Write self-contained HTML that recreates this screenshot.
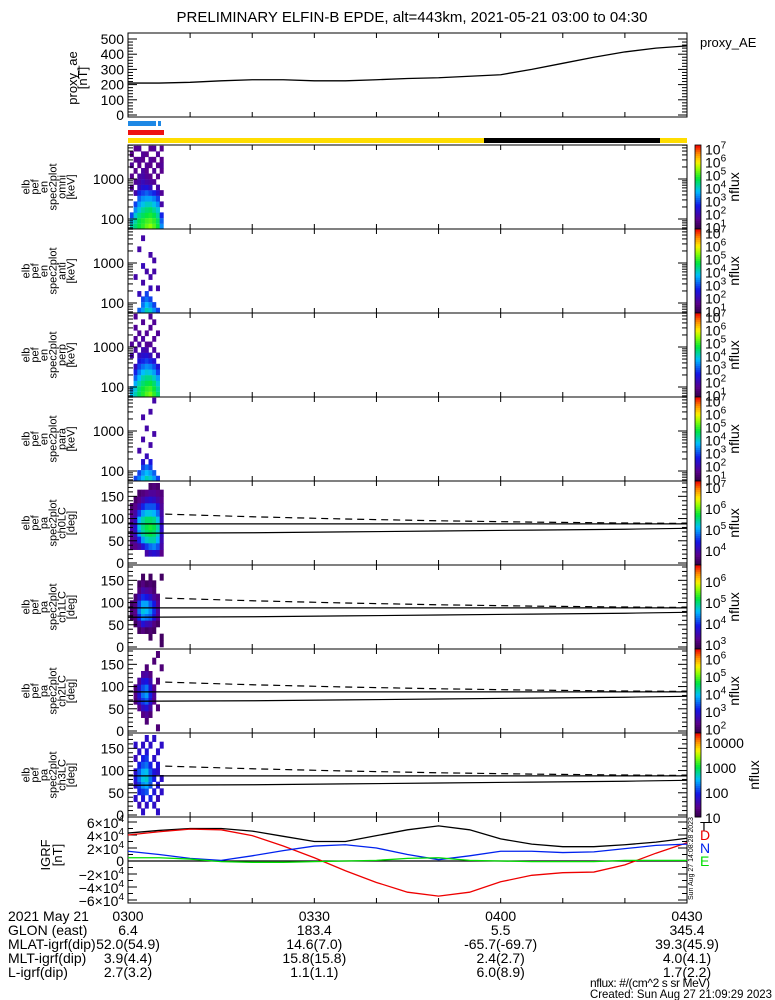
<!DOCTYPE html>
<html><head><meta charset="utf-8"><style>
html,body{margin:0;padding:0;background:#fff;}
svg{display:block;font-family:"Liberation Sans",sans-serif;}
</style></head><body>
<svg id="c" width="775" height="1000" viewBox="0 0 775 1000">
<text x="412" y="22" font-size="15" text-anchor="middle">PRELIMINARY ELFIN-B EPDE, alt=443km, 2021-05-21 03:00 to 04:30</text>
</svg>
<script>
// ---- data ----
const aeTimes=[0,5,10,15,20,25,30,35,40,45,50,55,60,65,70,75,80,85,90];
const aeVals=[210,210,215,225,232,232,225,225,232,240,245,255,265,300,340,380,415,440,455];
const igrfTimes=[0,5,10,15,20,25,30,35,40,45,50,55,60,65,70,75,80,85,90];
const igrfT=[4.3,4.7,5.0,5.0,4.6,3.8,3.0,3.0,3.9,4.8,5.4,4.8,3.4,2.6,2.2,2.2,2.5,2.9,3.5];
const igrfD=[4.0,4.5,4.9,4.8,3.9,2.3,0.5,-1.5,-3.3,-4.8,-5.4,-4.8,-3.2,-2.2,-1.8,-1.7,-0.6,1.2,2.8];
const igrfN=[1.5,1.0,0.4,0.1,0.8,1.6,2.3,2.5,2.0,1.0,0.2,0.8,1.5,1.5,1.3,1.4,1.9,2.4,2.6];
const igrfE=[0.5,0.5,0.3,-0.1,-0.2,-0.2,-0.1,0,0.1,0.4,0.5,0.1,0,-0.1,-0.1,-0.1,0.1,0.1,0.1];
const specTimes=[0.6,1.2,1.8,2.4,3.0,3.6,4.2,4.8,5.4];
const energies=[65,90,125,170,235,325,450,620,850,1170,1610,2220,3060,4200,5800];
const omni=[
[4.2,4.5,4.8,5.0,5.3,5.5,5.2,4.8,3.5],[3.8,4.3,4.7,4.9,5.1,5.2,5.0,4.6,3.2],
[3.0,4.0,4.4,4.6,4.8,4.9,4.7,4.3,2.8],[0,3.5,4.0,4.3,4.5,4.6,4.3,4.0,0],
[0,3.0,3.6,3.9,4.1,4.1,3.9,3.5,2],[0,0,3.2,3.5,3.6,3.6,3.4,3.0,0],
[0,2.0,2.8,3.0,3.2,3.0,2.8,2.4,1.8],[1.8,0,2.2,2.5,2.6,2.3,0,2,0],
[0,1.8,2,2.2,2,1.9,1.8,0,0],[1.7,0,1.9,2,1.8,1.7,0,1.7,0],
[0,1.7,0,1.9,1.7,0,1.8,0,1.7],[1.8,0,1.7,0,1.8,1.7,0,1.7,1.8],
[0,1.7,1.8,1.7,0,1.8,1.7,0,1.7],[1.7,0,0,1.8,1.7,0,0,1.8,0],[0,1.7,1.8,0,0,1.7,1.8,0,1.7]];
const anti=[
[0,0,3.2,3.6,4.2,4.0,3.5,3.0,0],[0,0,0,3.3,3.8,3.5,3.0,0,0],
[0,0,0,3.0,3.3,3.0,0,0,0],[0,0,2.2,0,3.0,0,0,0,0],
[0,0,0,0,0,2.2,0,2.0,0],[0,0,0,2.0,0,0,0,0,0],
[0,2.0,0,0,0,2.0,0,0,0],[0,0,0,0,2.0,0,2.0,0,0],
[0,0,0,2.2,0,0,0,0,0],[0,0,0,0,0,0,2.0,0,0],
[0,0,0,0,0,2.0,0,0,0],[0,0,2.0,0,0,0,0,0,0],
[0,0,0,0,0,0,0,0,0],[0,0,0,2.0,0,0,0,0,0],[0,0,0,0,0,0,0,0,0]];
const perp=[
[3.8,4.2,4.6,4.9,5.2,5.4,5.0,4.5,0],[3.5,4.0,4.5,4.8,5.0,5.1,4.8,4.3,0],
[0,3.7,4.2,4.5,4.7,4.8,4.5,4.0,0],[0,3.2,3.8,4.2,4.4,4.4,4.1,3.6,0],
[0,2.8,3.4,3.8,4.0,3.9,3.6,3.0,0],[0,2.2,3.0,3.3,3.5,3.4,3.1,2.5,0],
[0,0,2.6,2.8,3.0,2.8,2.5,0,0],[2.0,0,2.2,2.4,2.5,2.2,0,2.0,0],
[0,1.9,0,2.1,2.0,0,1.9,0,0],[1.8,0,1.9,0,1.8,1.8,0,0,0],
[0,1.8,0,1.9,0,0,1.8,0,0],[0,0,1.8,0,1.8,0,0,1.8,0],
[0,1.8,0,0,0,1.8,0,0,0],[0,0,0,1.8,0,0,1.8,0,0],[0,1.8,0,0,0,1.8,0,0,0]];
const para=[
[0,3.0,3.4,3.8,4.2,4.0,3.6,3.0,0],[0,0,3.0,3.5,3.8,3.6,3.2,0,0],
[0,0,0,3.0,3.3,3.0,0,0,0],[0,0,0,2.4,0,2.6,0,0,0],
[0,0,0,0,2.2,0,0,0,0],[0,0,2.0,0,0,0,0,0,0],
[0,0,0,0,0,2.0,0,0,0],[0,0,0,2.0,0,0,0,0,0],
[0,0,0,0,0,0,2.0,0,0],[0,0,0,0,2.0,0,0,0,0],
[0,0,0,0,0,0,0,0,0],[0,0,0,2.0,0,0,0,0,0],
[0,0,0,0,0,2.0,0,0,0],[0,0,0,0,0,0,0,0,0],[0,0,0,0,0,0,2.0,0,0]];
const paBins=[7.5,22.5,37.5,52.5,67.5,82.5,97.5,112.5,127.5,142.5,157.5,172.5];
const ch0=[
[0,0,0,0,0,0,0,0,0],[0,0,0,0,4.0,4.2,4.3,4.2,3.8],[3.7,3.8,4.0,4.3,4.6,4.8,4.9,4.7,4.0],
[3.8,4.0,4.5,5.0,5.3,5.4,5.4,5.1,4.1],[3.9,4.2,5.0,5.4,5.6,5.7,5.6,5.3,4.2],
[4.0,4.3,5.2,5.5,5.7,5.8,5.7,5.4,4.2],[3.9,4.2,5.1,5.4,5.6,5.6,5.5,5.2,4.1],
[3.8,4.0,4.6,5.0,5.2,5.2,5.1,4.8,4.0],[3.6,3.8,4.1,4.5,4.7,4.7,4.7,4.4,3.9],
[0,3.6,3.8,4.0,4.2,4.3,4.2,4.0,3.8],[0,0,3.6,3.7,3.8,3.9,3.9,3.8,3.7],[0,0,0,0,0,3.6,3.7,3.6,0]];
const ch1=[
[0,0,0,0,0,0,0,0,3.0],[0,0,0,0,0,3.0,0,0,3.0],[0,0,3.0,3.2,3.0,3.1,3.0,0,0],
[0,3.0,3.4,3.8,3.6,3.5,3.2,3.0,0],[3.0,3.2,4.0,4.4,4.3,4.2,3.8,3.3,0],
[3.1,3.3,4.3,4.7,4.6,4.4,4.0,3.4,0],[3.0,3.2,4.1,4.5,4.5,4.2,3.9,3.3,0],
[0,3.1,3.6,4.0,3.9,3.7,3.4,3.2,0],[0,0,3.2,3.5,3.4,3.3,3.1,0,0],
[0,0,3.0,3.2,3.0,3.1,3.0,0,0],[0,0,0,3.0,0,3.0,0,0,3.0],[0,0,0,0,0,0,0,0,0]];
const ch2=[
[0,0,0,0,0,0,0,2.2,0],[0,0,0,0,2.2,0,0,0,0],[0,0,0,2.3,2.5,2.2,0,0,0],
[0,0,2.4,2.8,3.0,2.6,0,2.2,0],[0,2.2,2.8,3.3,3.5,3.0,2.4,0,0],
[0,2.3,3.0,3.6,3.8,3.2,2.5,0,0],[0,2.2,2.9,3.4,3.6,3.0,2.4,0,0],
[0,0,2.5,3.0,3.1,2.7,0,2.2,0],[0,0,0,2.5,2.6,2.3,0,0,0],
[0,0,0,0,2.2,0,0,0,2.2],[0,0,0,0,0,0,2.2,0,0],[0,0,0,0,0,0,0,2.2,0]];
const ch3=[
[0,0,0,1.8,0,0,0,1.8,0],[0,0,1.7,0,1.8,0,1.8,0,0],[0,1.8,0,1.9,0,2.0,0,1.7,0],
[0,0,2.0,2.1,2.2,0,1.9,0,1.8],[0,1.8,2.1,2.4,2.5,2.2,0,1.9,0],
[0,1.9,2.3,2.6,2.7,2.3,2.0,0,1.8],[0,1.8,2.2,2.5,2.6,2.2,1.9,1.8,0],
[0,0,2.0,2.2,2.3,2.0,0,1.9,0],[0,1.7,0,2.0,2.1,0,1.8,0,0],
[0,0,1.8,0,1.9,0,0,1.8,0],[0,1.8,0,1.8,0,1.8,0,0,1.8],[0,0,0,0,1.8,0,1.8,0,0]];
const lcTimes=[6,20,35,50,65,80,90];
const lcDashed=[110,104,99,95,92,90,89];
const lcSolid=[67,68,70,72,74,76,78];
const lcFlat=[88,88,88,88,88,88,88];
const footRows=["2021 May 21","GLON (east)","MLAT-igrf(dip)","MLT-igrf(dip)","L-igrf(dip)"];
const footTimes=["0300","0330","0400","0430"];
const footGlon=["6.4","183.4","5.5","345.4"];
const footMlat=["52.0(54.9)","14.6(7.0)","-65.7(-69.7)","39.3(45.9)"];
const footMlt=["3.9(4.4)","15.8(15.8)","2.4(2.7)","4.0(4.1)"];
const footL=["2.7(3.2)","1.1(1.1)","6.0(8.9)","1.7(2.2)"];

// ---- helpers ----
const svg=document.getElementById('c');
const NS='http://www.w3.org/2000/svg';
const X0=128,X1=687;
function xT(t){return X0+t*(X1-X0)/90;}
function mk(tag,attrs,parent){const e=document.createElementNS(NS,tag);for(const k in attrs)e.setAttribute(k,attrs[k]);(parent||svg).appendChild(e);return e;}
function txt(x,y,s,size,anchor,parent,fill){const e=mk('text',{x:x,y:y,'font-size':size||14,'text-anchor':anchor||'start',fill:fill||'#000'},parent);e.textContent=s;return e;}
const stops=[[0,[50,0,70]],[0.12,[90,0,140]],[0.28,[20,20,230]],[0.45,[0,190,255]],[0.6,[0,230,60]],[0.72,[150,255,0]],[0.8,[255,240,0]],[0.9,[255,140,0]],[1,[240,0,0]]];
function cmap(f){f=Math.max(0,Math.min(1,f));for(let i=1;i<stops.length;i++){if(f<=stops[i][0]){const a=stops[i-1],b=stops[i];const u=(f-a[0])/(b[0]-a[0]);const c=a[1].map((v,k)=>Math.round(v+(b[1][k]-v)*u));return 'rgb('+c.join(',')+')';}}return 'rgb(240,0,0)';}
function vlabel(cx,cy,lines,step,size,parent){const g=mk('g',{transform:'translate('+cx+','+cy+') rotate(-90)'},parent);const n=lines.length;lines.forEach((s,i)=>{txt(0,(i-(n-1)/2)*step+4,s,size||13,'middle',g);});return g;}
function xticks(top,bot,parent){for(let t=0;t<=90;t+=10){const x=xT(t);mk('line',{x1:x,y1:top,x2:x,y2:top+5,stroke:'#000'},parent);mk('line',{x1:x,y1:bot,x2:x,y2:bot-5,stroke:'#000'},parent);}}
function frame(top,bot,name){const g=mk('g',{});return g;}

// ---- proxy AE panel ----
(function(){
const g=frame(33,117,'proxy-ae-panel');
const T=33,B=117;const yA=v=>115-v*0.152;
mk('rect',{x:X0,y:T,width:X1-X0,height:B-T,fill:'none',stroke:'#000'},g);
for(let v=0;v<=500;v+=20){const y=yA(v);const L=(v%100===0)?9:5;mk('line',{x1:X0,y1:y,x2:X0+L,y2:y,stroke:'#000'},g);mk('line',{x1:X1,y1:y,x2:X1-L,y2:y,stroke:'#000'},g);}
for(let v=0;v<=500;v+=100){txt(124,yA(v)+5,String(v),14,'end',g);}
xticks(T,B,g);
const p=mk('polyline',{points:aeTimes.map((t,i)=>xT(t)+','+yA(aeVals[i])).join(' '),fill:'none',stroke:'#000','stroke-width':1.3},g);

vlabel(78,78,['proxy_ae','[nT]'],10,13,g);
const l=txt(700,47,'proxy_AE',13,'start',g);
})();

// ---- status bars ----
(function(){
const g=mk('g',{});
mk('rect',{x:128,y:121,width:28,height:5,fill:'#1e88e5'},g);
mk('rect',{x:158,y:121,width:3,height:5,fill:'#1e88e5'},g);
mk('rect',{x:128,y:130,width:36,height:5,fill:'#ee1111'},g);
mk('rect',{x:128,y:138,width:X1-128,height:5,fill:'#ffdd00'},g);
mk('rect',{x:484,y:138,width:176,height:5,fill:'#000'},g);
})();

// ---- colorbar ----
function colorbar(T,B,lo,hi,labels,g){
const n=40;for(let i=0;i<n;i++){const y=B-(i+1)*(B-T)/n;mk('rect',{x:695,y:y,width:6,height:(B-T)/n+0.5,fill:cmap((i+0.5)/n)},g);}
mk('rect',{x:695,y:T,width:6,height:B-T,fill:'none',stroke:'#000','stroke-width':0.8},g);
labels.forEach(v=>{const y=B-(v-lo)/(hi-lo)*(B-T);if(v>=lo-0.2&&v<=hi+0.1){const t=mk('text',{x:705,y:y+5,'font-size':14},g);t.textContent='10';const s=mk('tspan',{dy:-6,'font-size':10},t);s.textContent=String(v);}});
vlabel(735,(T+B)/2,['nflux'],10,14,g);
}

// ---- energy spectrogram panels ----
function specPanel(T,name,mat,kind){
const B=T+84;const g=frame(T,B,name);
const yE=E=>T+34+(3-Math.log10(E))*40;
const lo=0.9,hi=7.35;
const cg=mk('g',{},g);
mat.forEach((row,ri)=>{const E=energies[ri];const e1=E/1.17,e2=E*1.17;row.forEach((v,ci)=>{if(!v)return;const t=specTimes[ci];const y1=Math.max(T,yE(e2)),y2=Math.min(B,yE(e1));if(y2<=y1)return;const r=mk('rect',{x:xT(t-0.3),y:y1,width:xT(t+0.3)-xT(t-0.3)+0.3,height:y2-y1+0.3,fill:cmap((v-lo)/(hi-lo))},cg);});});
mk('rect',{x:X0,y:T,width:X1-X0,height:84,fill:'none',stroke:'#000'},g);
for(let d=1;d<=4;d++){for(let m=1;m<10;m++){const E=m*Math.pow(10,d);const y=yE(E);if(y<T||y>B)continue;const L=m===1?9:5;mk('line',{x1:X0,y1:y,x2:X0+L,y2:y,stroke:'#000'},g);mk('line',{x1:X1,y1:y,x2:X1-L,y2:y,stroke:'#000'},g);}}
txt(124,yE(1000)+5,'1000',14,'end',g);txt(124,yE(100)+5,'100',14,'end',g);
xticks(T,B,g);
vlabel(48,T+42,['elb','pef','en','spec2plot',kind,'[keV]'],9,11,g);
colorbar(T,B,lo,hi,[1,2,3,4,5,6,7],g);
}
specPanel(145,'spec-omni-panel',omni,'omni');
specPanel(229,'spec-anti-panel',anti,'anti');
specPanel(313,'spec-perp-panel',perp,'perp');
specPanel(397,'spec-para-panel',para,'para');

// ---- pitch angle panels ----
function paPanel(T,name,mat,ch,lo,hi,labs,lbl10){
const B=T+84;const g=frame(T,B,name);
const yP=d=>B-2-d*(80/180);
const cg=mk('g',{},g);
mat.forEach((row,ri)=>{const d=paBins[ri];row.forEach((v,ci)=>{if(!v)return;const t=specTimes[ci];const y1=yP(d+7.5),y2=yP(d-7.5);const r=mk('rect',{x:xT(t-0.3),y:y1,width:xT(t+0.3)-xT(t-0.3)+0.3,height:y2-y1+0.3,fill:cmap((v-lo)/(hi-lo))},cg);});});
mk('rect',{x:X0,y:T,width:X1-X0,height:84,fill:'none',stroke:'#000'},g);
for(let d=0;d<=180;d+=10){const y=yP(d);const L=d%50===0?9:5;mk('line',{x1:X0,y1:y,x2:X0+L,y2:y,stroke:'#000'},g);mk('line',{x1:X1,y1:y,x2:X1-L,y2:y,stroke:'#000'},g);}
[0,50,100,150].forEach(d=>txt(124,yP(d)+5,String(d),14,'end',g));
xticks(T,B,g);
const pl=(arr,dash,t0)=>{const pts=lcTimes.map((t,i)=>xT(i===0?t0:t)+','+yP(arr[i])).join(' ');const p=mk('polyline',{points:pts,fill:'none',stroke:'#000','stroke-width':1.2},g);if(dash)p.setAttribute('stroke-dasharray','7,5');return p;};
let p=pl(lcFlat,false,0);
p=pl(lcSolid,false,0);
p=pl(lcDashed,true,6);
vlabel(48,T+42,['elb','pef','pa','spec2plot',ch,'[deg]'],9,11,g);
const cb=mk('g',{},g);
const n=40;for(let i=0;i<n;i++){const y=B-(i+1)*84/n;mk('rect',{x:695,y:y,width:6,height:84/n+0.5,fill:cmap((i+0.5)/n)},cb);}
mk('rect',{x:695,y:T,width:6,height:84,fill:'none',stroke:'#000','stroke-width':0.8},cb);
labs.forEach(v=>{const y=B-(v-lo)/(hi-lo)*84;if(lbl10){txt(705,y+5,String(Math.pow(10,v)),14,'start',cb);}else{const t=mk('text',{x:705,y:y+5,'font-size':14},cb);t.textContent='10';const s=mk('tspan',{dy:-6,'font-size':10},t);s.textContent=String(v);}});
vlabel(lbl10?755:735,T+42,['nflux'],10,14,cb);
}
paPanel(481,'pa-ch0-panel',ch0,'ch0LC',3.33,7.33,[4,5,6,7],false);
paPanel(565,'pa-ch1-panel',ch1,'ch1LC',2.8,6.8,[3,4,5,6],false);
paPanel(649,'pa-ch2-panel',ch2,'ch2LC',1.8,6.6,[2,3,4,5,6],false);
paPanel(733,'pa-ch3-panel',ch3,'ch3LC',1.04,4.4,[1,2,3,4],true);

// ---- IGRF panel ----
(function(){
const T=817,B=903;const g=frame(T,B,'igrf-panel');
const yI=v=>861-v*6.5;
mk('rect',{x:X0,y:T,width:X1-X0,height:B-T,fill:'none',stroke:'#000'},g);
for(let v=-6;v<=6;v+=1){const y=yI(v);const L=v%2===0?9:5;mk('line',{x1:X0,y1:y,x2:X0+L,y2:y,stroke:'#000'},g);mk('line',{x1:X1,y1:y,x2:X1-L,y2:y,stroke:'#000'},g);}
mk('line',{x1:X0,y1:yI(0),x2:X1,y2:yI(0),stroke:'#000','stroke-width':1.2},g);
[-6,-4,-2,2,4,6].forEach(v=>{const t=mk('text',{x:124,y:yI(v)+6,'font-size':14,'text-anchor':'end'},g);t.textContent=(v<0?'\u2212':'')+Math.abs(v)+'\u00d710';const s=mk('tspan',{dy:-6,'font-size':10},t);s.textContent='4';});
txt(124,yI(0)+5,'0',14,'end',g);
xticks(T,B,g);
const series=[[igrfT,'#000','igrf-total-line'],[igrfD,'#ee0000','igrf-d-line'],[igrfN,'#0022ee','igrf-n-line'],[igrfE,'#00dd00','igrf-e-line']];
series.forEach(s=>{const p=mk('polyline',{points:igrfTimes.map((t,i)=>xT(t)+','+yI(s[0][i])).join(' '),fill:'none',stroke:s[1],'stroke-width':1.3},g);});
vlabel(52,855,['IGRF','[nT]'],12,13,g);
const lg=mk('g',{},g);
txt(700,831,'T',13,'start',lg,'#000');txt(700,840,'D',14,'start',lg,'#ee0000');txt(700,853,'N',14,'start',lg,'#0022ee');txt(700,866,'E',14,'start',lg,'#00dd00');
const st=mk('g',{transform:'translate(693,900) rotate(-90)'},g);txt(0,0,'Sun Aug 27 14:08:28 2023',7,'start',st);
})();

// ---- footer ----
(function(){
const g=mk('g',{});
const ys=[921,935,949,963,977];
footRows.forEach((s,i)=>txt(8,ys[i],s,14,'start',g));
const cols=[footTimes,footGlon,footMlat,footMlt,footL];
cols.forEach((arr,i)=>arr.forEach((s,j)=>txt(xT(j*30),ys[i],s,14,'middle',g)));
const a=txt(590,987,'nflux: #/(cm^2 s sr MeV)',12,'start',g);a.setAttribute('textLength','120');
const b=txt(590,998,'Created: Sun Aug 27 21:09:29 2023',12,'start',g);b.setAttribute('textLength','182');b.setAttribute('lengthAdjust','spacingAndGlyphs');
})();
</script>
</body></html>
